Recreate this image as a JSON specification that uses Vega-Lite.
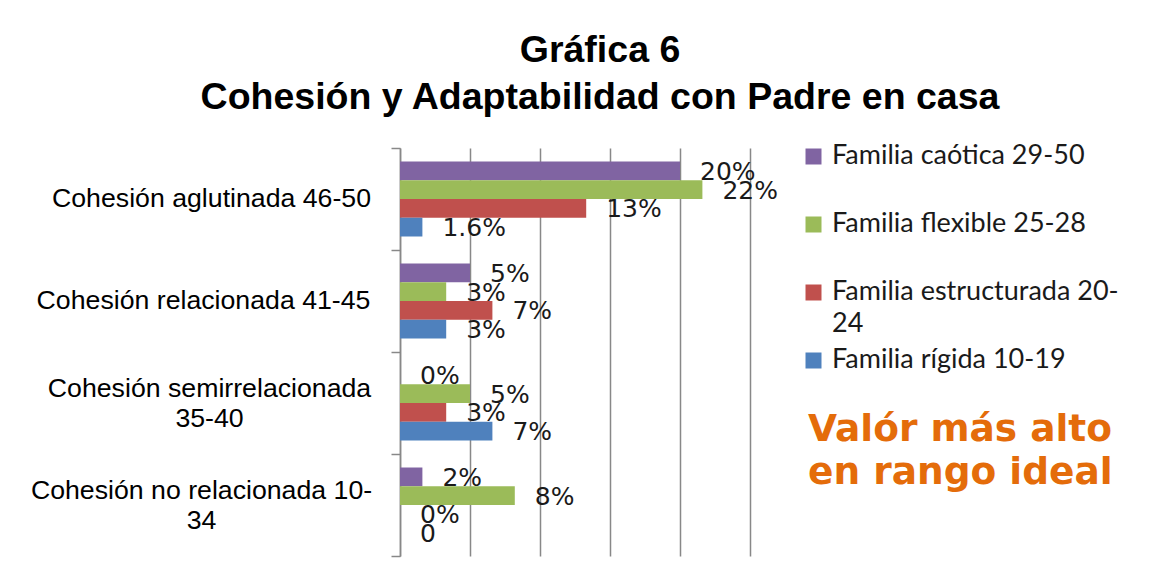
{
  "$schema": "https://vega.github.io/schema/vega-lite/v6.json",
  "width": 350,
  "height": 408,
  "autosize": {"type": "none"},
  "padding": {"left": 400, "top": 148, "right": 420, "bottom": 21},
  "background": "white",
  "title": {
    "text": ["Gráfica 6", "Cohesión y Adaptabilidad con Padre en casa"],
    "font": "Liberation Sans",
    "fontSize": 37.5,
    "fontWeight": "bold",
    "color": "black",
    "lineHeight": 47,
    "anchor": "middle",
    "frame": "group",
    "dx": 25,
    "offset": 19
  },
  "data": {
    "values": [
      {"cohesion": "Cohesión aglutinada 46-50", "familia": "Familia caótica 29-50", "valor": 20.0, "etiqueta": "20%"},
      {"cohesion": "Cohesión aglutinada 46-50", "familia": "Familia flexible 25-28", "valor": 21.6, "etiqueta": "22%"},
      {"cohesion": "Cohesión aglutinada 46-50", "familia": "Familia estructurada 20-24", "valor": 13.3, "etiqueta": "13%"},
      {"cohesion": "Cohesión aglutinada 46-50", "familia": "Familia rígida 10-19", "valor": 1.6, "etiqueta": "1.6%"},
      {"cohesion": "Cohesión relacionada 41-45", "familia": "Familia caótica 29-50", "valor": 5.0, "etiqueta": "5%"},
      {"cohesion": "Cohesión relacionada 41-45", "familia": "Familia flexible 25-28", "valor": 3.3, "etiqueta": "3%"},
      {"cohesion": "Cohesión relacionada 41-45", "familia": "Familia estructurada 20-24", "valor": 6.6, "etiqueta": "7%"},
      {"cohesion": "Cohesión relacionada 41-45", "familia": "Familia rígida 10-19", "valor": 3.3, "etiqueta": "3%"},
      {"cohesion": "Cohesión semirrelacionada 35-40", "familia": "Familia caótica 29-50", "valor": 0, "etiqueta": "0%"},
      {"cohesion": "Cohesión semirrelacionada 35-40", "familia": "Familia flexible 25-28", "valor": 5.0, "etiqueta": "5%"},
      {"cohesion": "Cohesión semirrelacionada 35-40", "familia": "Familia estructurada 20-24", "valor": 3.3, "etiqueta": "3%"},
      {"cohesion": "Cohesión semirrelacionada 35-40", "familia": "Familia rígida 10-19", "valor": 6.6, "etiqueta": "7%"},
      {"cohesion": "Cohesión no relacionada 10-34", "familia": "Familia caótica 29-50", "valor": 1.6, "etiqueta": "2%"},
      {"cohesion": "Cohesión no relacionada 10-34", "familia": "Familia flexible 25-28", "valor": 8.2, "etiqueta": "8%"},
      {"cohesion": "Cohesión no relacionada 10-34", "familia": "Familia estructurada 20-24", "valor": 0, "etiqueta": "0%"},
      {"cohesion": "Cohesión no relacionada 10-34", "familia": "Familia rígida 10-19", "valor": 0, "etiqueta": "0"}
    ]
  },
  "encoding": {
    "y": {
      "field": "cohesion",
      "type": "nominal",
      "sort": ["Cohesión aglutinada 46-50", "Cohesión relacionada 41-45", "Cohesión semirrelacionada 35-40", "Cohesión no relacionada 10-34"],
      "scale": {"paddingInner": 0, "paddingOuter": 0},
      "axis": {
        "title": null,
        "domainColor": "#888888",
        "domainWidth": 1.5,
        "tickColor": "#888888",
        "tickWidth": 1.5,
        "tickSize": 9,
        "tickBand": "extent",
        "labelFont": "Liberation Sans",
        "labelFontSize": 26.7,
        "labelColor": "black",
        "labelAlign": "center",
        "labelBaseline": "middle",
        "labelPadding": {
          "condition": [
            {"test": "datum.value == 'Cohesión relacionada 41-45'", "value": 188},
            {"test": "datum.value == 'Cohesión semirrelacionada 35-40'", "value": 182},
            {"test": "datum.value == 'Cohesión no relacionada 10-34'", "value": 190}
          ],
          "value": 180
        },
        "labelOffset": {
          "condition": {"test": "datum.value == 'Cohesión semirrelacionada 35-40' || datum.value == 'Cohesión no relacionada 10-34'", "value": -15},
          "value": -1
        },
        "labelLineHeight": 30,
        "labelLimit": 500,
        "labelExpr": "datum.label == 'Cohesión semirrelacionada 35-40' ? ['Cohesión semirrelacionada', '35-40'] : datum.label == 'Cohesión no relacionada 10-34' ? ['Cohesión no relacionada 10-', '34'] : datum.label"
      }
    },
    "yOffset": {
      "field": "familia",
      "type": "nominal",
      "sort": ["Familia caótica 29-50", "Familia flexible 25-28", "Familia estructurada 20-24", "Familia rígida 10-19"],
      "scale": {"paddingInner": 0, "paddingOuter": 0.72}
    },
    "x": {
      "field": "valor",
      "type": "quantitative",
      "scale": {"domain": [0, 25], "nice": false},
      "axis": {
        "title": null,
        "grid": true,
        "gridColor": "#888888",
        "gridWidth": 1.5,
        "labels": false,
        "ticks": false,
        "domain": false,
        "values": [0, 5, 10, 15, 20, 25]
      }
    }
  },
  "layer": [
    {
      "mark": {"type": "bar"},
      "encoding": {
        "color": {
          "field": "familia",
          "type": "nominal",
          "scale": {
            "domain": ["Familia caótica 29-50", "Familia flexible 25-28", "Familia estructurada 20-24", "Familia rígida 10-19"],
            "range": ["#8064A2", "#9BBB59", "#C0504D", "#4F81BD"]
          },
          "legend": {
            "title": null,
            "orient": "none",
            "legendX": 400,
            "legendY": -5,
            "symbolType": "square",
            "symbolSize": 256,
            "symbolStrokeWidth": 0,
            "labelFont": "Lato",
            "labelFontSize": 27,
            "labelColor": "#1a1a1a",
            "labelOffset": 5,
            "labelLimit": 400,
            "labelBaseline": "top",
            "labelLineHeight": 32,
            "gridAlign": "all",
            "rowPadding": 8,
            "labelExpr": "datum.label == 'Familia estructurada 20-24' ? ['Familia estructurada 20-', '24'] : datum.label",
            "encode": {"labels": {"update": {"dy": {"value": -14}, "lineHeight": {"value": 32}}}}
          }
        }
      }
    },
    {
      "mark": {"type": "text", "align": "left", "baseline": "middle", "dx": 20, "dy": 1, "font": "DejaVu Sans", "fontSize": 25, "color": "#1a1a1a"},
      "encoding": {
        "text": {"field": "etiqueta"},
        "opacity": {
          "datum": "nota",
          "type": "nominal",
          "scale": {"range": [1, 1]},
          "legend": {
            "title": ["Valór más alto", "en rango ideal"],
            "orient": "none",
            "legendX": 408,
            "legendY": 263,
            "titleFont": "DejaVu Sans",
            "titleFontSize": 37.5,
            "titleFontWeight": "bold",
            "titleColor": "#E46C0A",
            "titleLineHeight": 43,
            "titleLimit": 600,
            "labelExpr": "''",
            "symbolSize": 0,
            "symbolOpacity": 0
          }
        }
      }
    }
  ],
  "config": {"view": {"stroke": null}}
}
